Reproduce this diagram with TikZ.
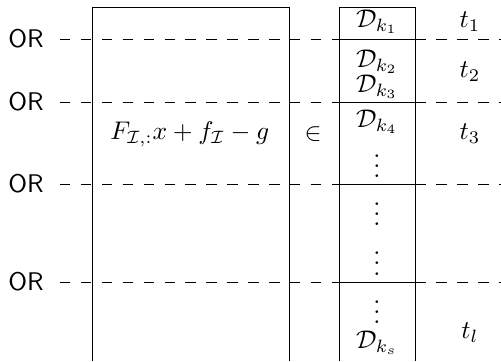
\documentclass[tikz,border=0pt]{standalone}
\usepackage{amsmath}
\begin{document}
\begin{tikzpicture}[every node/.style={scale=1.16, inner sep=1pt},
                    orline/.style={dash pattern=on 4.75pt off 4.75pt, line width=0.45pt},
                    boxline/.style={line width=0.45pt}]
        \useasboundingbox (0,0) rectangle (8,5.765);
        % Dashed OR rows
        \foreach \y/\n in {5.142/a, 4.136/b, 2.826/c, 1.262/d} {
            \node[font=\sffamily] (or\n) at (0.415,\y) {OR};
            \draw[orline] (0.958,\y) -- (8.0,\y);
            \draw[boxline] (5.413,\y) -- (6.627,\y);
        }
        
        % Left column
        \draw[boxline] (1.47,0) -- (1.47,5.653) -- (4.63,5.653) -- (4.63,0);
        \node (lhs) at (3.03,3.625) {$F_{\mathcal{I},:}x + f_{\mathcal{I}} - g$};
        \node (in) at (5.0,3.625) {$\in$};
        
        % Right column of sets
        \draw[boxline] (5.413,0) -- (5.413,5.653) -- (6.627,5.653) -- (6.627,0);
        \node (d1) at (6.02,5.413) {$\mathcal{D}_{k_1}$};
        \node (d2) at (6.02,4.774) {$\mathcal{D}_{k_2}$};
        \node (d3) at (6.02,4.375) {$\mathcal{D}_{k_3}$};
        \node (d4) at (6.02,3.816) {$\mathcal{D}_{k_4}$};
        \node (v1) at (6.02,3.23) {$\vdots$};
        \node (v2) at (6.02,2.47) {$\vdots$};
        \node (v3) at (6.02,1.68) {$\vdots$};
        \node (v4) at (6.02,0.90) {$\vdots$};
        \node (ds) at (6.02,0.287) {$\mathcal{D}_{k_s}$};
        
        % Times
        \node (t1) at (7.505,5.413) {$t_1$};
        \node (t2) at (7.505,4.615) {$t_2$};
        \node (t3) at (7.505,3.625) {$t_3$};
        \node (tl) at (7.505,0.447) {$t_l$};
    \end{tikzpicture}
\end{document}
